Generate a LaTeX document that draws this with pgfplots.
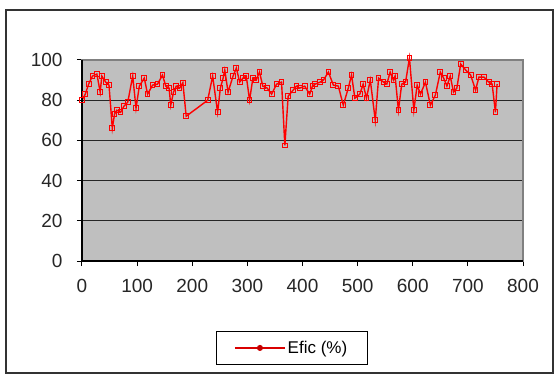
\documentclass[border=0pt]{standalone}
\usepackage{pgfplots}
\pgfplotsset{compat=1.18}
\usepackage{fontspec}
\setmainfont{Liberation Sans}

\pgfplotstableread{
x y
0 80
6 83
12 88
19 92
27 93
33 84
36 92
43 89
49 87.5
55 66
59 73
63 75
70 74
76 77
83 79
92 92
98 76
104 87
113 91
119 83
128 87.5
137 88
146 92.5
152 87
158 86
161 77.5
166 84
171 87
177 86
183 88.7
189 72
228 80
237 92
246 74
251 86
256 91
259 95
265 84
274 92
280 96
286 89
292 91
298 92
304 80
310 91
316 90
322 94
328 87
336 86
344 83
353 88
362 89
368 57.5
374 82
383 85
389 87
395 86
404 87
413 83
418 87
423 88
432 89
438 90
447 94
456 87.5
465 87
474 77.5
483 86
489 92.5
495 81
504 83
510 88
516 81
523 90
532 70
538 91
547 89
553 88
559 94
565 90
568 92
574 75
580 88
587 89
594 101
602 75
608 87.5
614 83
623 89
632 77.5
641 82.5
650 94
656 91
662 87
668 92
674 84
680 86
687 98
696 95
705 92.5
714 85
720 91.5
729 91.5
738 89
744 88
750 74
753 88
}\efic

\begin{document}
\begin{tikzpicture}
\useasboundingbox (-82bp,-113bp) rectangle (477bp,261bp);
\draw[line width=1.5bp, black!80] (-76bp,-112bp) rectangle (471bp,251bp);
\begin{axis}[
  at={(0bp,0bp)}, anchor=south west,
  width=441bp, height=201bp, scale only axis,
  xmin=0, xmax=800, ymin=0, ymax=100,
  xtick={0,100,...,800}, ytick={0,20,...,100},
  axis background/.style={fill=black!25},
  axis line style={draw=black!50, line width=1.2bp},
  ymajorgrids, grid style={black!85, line width=1.1bp},
  tick align=outside, major tick length=5bp,
  tick style={black, line width=1bp},
  xtick pos=bottom, ytick pos=left,
  ticklabel style={font=\fontsize{19bp}{21bp}\selectfont, text=black!85},
  /pgf/number format/assume math mode=true,
  yticklabel style={xshift=-11bp},
  xticklabel style={yshift=-10bp},
  clip=false,
  legend style={at={(0.4755,-0.4325)}, anchor=center, draw=black, line width=1bp,
    font=\fontsize{17bp}{19bp}\selectfont, inner xsep=18bp, inner ysep=8bp},
  legend image code/.code={
    \draw[draw=red!85!black, line width=1.6bp] (0bp,0bp) -- (50bp,0bp);
    \draw[draw=red!80!black, fill=red!75!black, line width=0.8bp] (25bp,0bp) circle (2.6bp);
  },
]
\addplot[red, line width=1.4bp, mark=square, mark size=2.4bp,
  mark options={red, line width=1bp, fill=none}] table[x=x,y=y] {\efic};
\addlegendentry{Efic (\%)}
\draw[black, line width=1.3bp] (axis cs:0,100) -- (axis cs:0,0) -- (axis cs:800,0);
\end{axis}
\end{tikzpicture}
\end{document}
